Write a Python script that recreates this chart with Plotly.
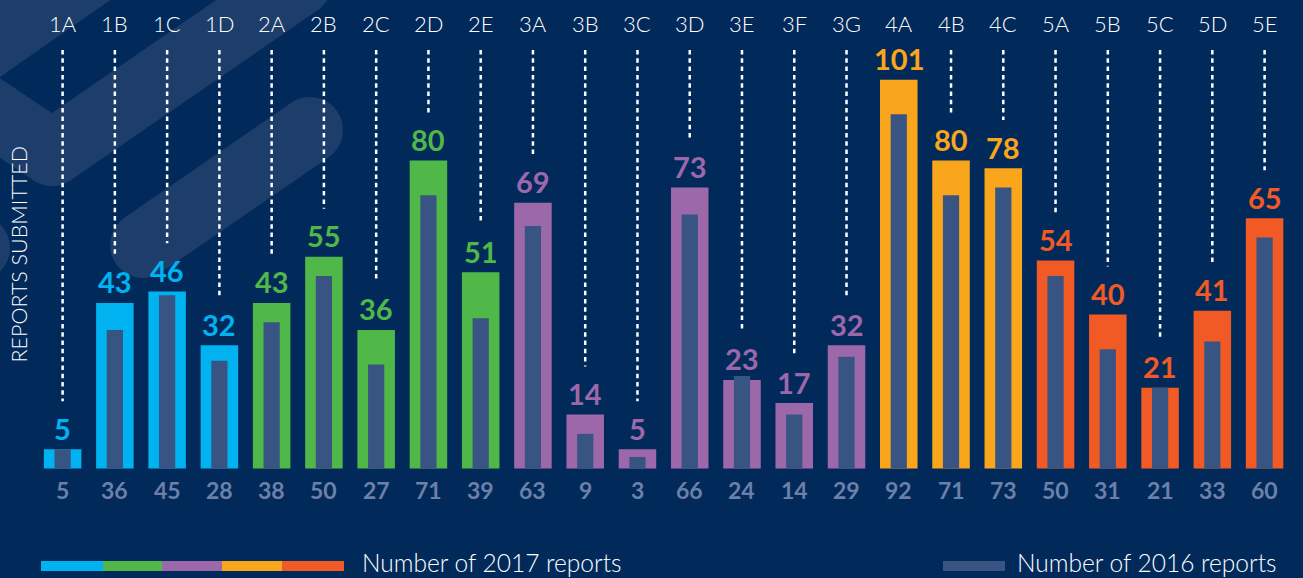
import math
import plotly.graph_objects as go

# ---------------- data ----------------
categories = ["1A", "1B", "1C", "1D", "2A", "2B", "2C", "2D", "2E",
              "3A", "3B", "3C", "3D", "3E", "3F", "3G",
              "4A", "4B", "4C", "5A", "5B", "5C", "5D", "5E"]
reports_2017 = [5, 43, 46, 32, 43, 55, 36, 80, 51,
                69, 14, 5, 73, 23, 17, 32,
                101, 80, 78, 54, 40, 21, 41, 65]
reports_2016 = [5, 36, 45, 28, 38, 50, 27, 71, 39,
                63, 9, 3, 66, 24, 14, 29,
                92, 71, 73, 50, 31, 21, 33, 60]
legend_2017 = "Number of 2017 reports"
legend_2016 = "Number of 2016 reports"
y_title = "REPORTS SUBMITTED"

# ---------------- styles ----------------
W, H = 1303, 578
BG = "#012a5b"
STRIPE = "#1d3d6b"
INNER = "#385482"
GRAY = "#6c80a8"
group_colors = {"1": "#00b2ef", "2": "#50b848", "3": "#9d68aa",
                "4": "#f9a61c", "5": "#f15a25"}
colors = [group_colors[c[0]] for c in categories]
FONT = "Lato"

x = list(range(len(categories)))
X_RANGE = [-1.198, 23.735]
Y_RANGE = [-28.44, 121.69]


def px2paper(px, py):
    return px / W, 1 - py / H


def poly_path(points):
    pts = [px2paper(a, b) for a, b in points]
    return "M " + " L ".join(f"{a:.5f},{b:.5f}" for a, b in pts) + " Z"


def capsule(p1, p2, r, n=20):
    (x1, y1), (x2, y2) = p1, p2
    ang = math.atan2(y2 - y1, x2 - x1)
    pts = []
    for k in range(n + 1):
        t = ang + math.pi / 2 + math.pi * k / n
        pts.append((x1 + r * math.cos(t), y1 + r * math.sin(t)))
    for k in range(n + 1):
        t = ang - math.pi / 2 + math.pi * k / n
        pts.append((x2 + r * math.cos(t), y2 + r * math.sin(t)))
    return pts


shapes = []
# decorative background stripes (pixel geometry of the ornament)
for pts in [
    [(-20, -20), (139, -20), (-20, 91)],           # top-left corner band
    capsule((52, 153), (-73, 69), 33),              # V left arm
    capsule((52, 153), (299, -17), 33),             # V right arm
    capsule((143, 245), (310, 130), 33),            # middle capsule
    capsule((-23, 248), (-120, 310), 33),           # edge cap
]:
    shapes.append(dict(type="path", path=poly_path(pts), xref="paper", yref="paper",
                       fillcolor=STRIPE, line=dict(width=0), layer="below"))

# dotted leader lines
LINE_TOP = 108.7
for i, v in enumerate(reports_2017):
    end = v + 12.5
    if end < LINE_TOP:
        shapes.append(dict(type="line", xref="x", yref="y", x0=i, x1=i, y0=LINE_TOP, y1=end,
                           line=dict(color="white", width=2.5, dash="4.5px,3.8px")))

# legend swatches
seg_edges = [41, 103, 162, 222, 282, 344]
for k, g in enumerate(["1", "2", "3", "4", "5"]):
    x0, y0 = px2paper(seg_edges[k], 571)
    x1, y1 = px2paper(seg_edges[k + 1], 561)
    shapes.append(dict(type="rect", xref="paper", yref="paper", x0=x0, x1=x1, y0=y0, y1=y1,
                       fillcolor=group_colors[g], line=dict(width=0)))
x0, y0 = px2paper(943, 571)
x1, y1 = px2paper(1005, 561)
shapes.append(dict(type="rect", xref="paper", yref="paper", x0=x0, x1=x1, y0=y0, y1=y1,
                   fillcolor=INNER, line=dict(width=0)))

annotations = []
for i, c in enumerate(categories):
    annotations.append(dict(x=i, y=115.6, xref="x", yref="y", text=c, showarrow=False,
                            xanchor="center", yanchor="middle",
                            font=dict(family=FONT, size=22, color="white", weight=300)))
    annotations.append(dict(x=i, y=reports_2017[i], xref="x", yref="y", yshift=21,
                            xanchor="center", yanchor="middle",
                            text=f"<b>{reports_2017[i]}</b>", showarrow=False,
                            font=dict(family=FONT, size=29, color=colors[i])))
    annotations.append(dict(x=i, y=-5.71, xref="x", yref="y",
                            xanchor="center", yanchor="middle",
                            text=f"<b>{reports_2016[i]}</b>", showarrow=False,
                            font=dict(family=FONT, size=23, color=GRAY)))

ax, ay = px2paper(18.5, 254)
annotations.append(dict(x=ax, y=ay, xref="paper", yref="paper", text=y_title, textangle=-90,
                        xanchor="center", yanchor="middle", showarrow=False,
                        font=dict(family=FONT, size=21.5, color="white", weight=300)))
lx, ly = px2paper(361, 562)
annotations.append(dict(x=lx, y=ly, xref="paper", yref="paper", text=legend_2017,
                        xanchor="left", yanchor="middle", showarrow=False, borderpad=0,
                        font=dict(family=FONT, size=24.5, color="white", weight=300)))
lx, ly = px2paper(1016, 562)
annotations.append(dict(x=lx, y=ly, xref="paper", yref="paper", text=legend_2016,
                        xanchor="left", yanchor="middle", showarrow=False, borderpad=0,
                        font=dict(family=FONT, size=24.5, color="white", weight=300)))

fig = go.Figure()
fig.add_trace(go.Bar(x=x, y=reports_2017, width=0.718, marker=dict(color=colors, line=dict(width=0)),
                     name=legend_2017, hoverinfo="skip"))
fig.add_trace(go.Bar(x=x, y=reports_2016, width=0.31, marker=dict(color=INNER, line=dict(width=0)),
                     name=legend_2016, hoverinfo="skip"))

fig.update_layout(
    width=W, height=H, margin=dict(l=0, r=0, t=0, b=0),
    paper_bgcolor=BG, plot_bgcolor=BG, barmode="overlay", showlegend=False,
    xaxis=dict(range=X_RANGE, visible=False, fixedrange=True),
    yaxis=dict(range=Y_RANGE, visible=False, fixedrange=True),
    shapes=shapes, annotations=annotations,
    font=dict(family=FONT),
)

fig.write_html("out.html", config={"displayModeBar": False},
               post_script="document.body.style.margin='0';document.body.style.overflow='hidden';")
